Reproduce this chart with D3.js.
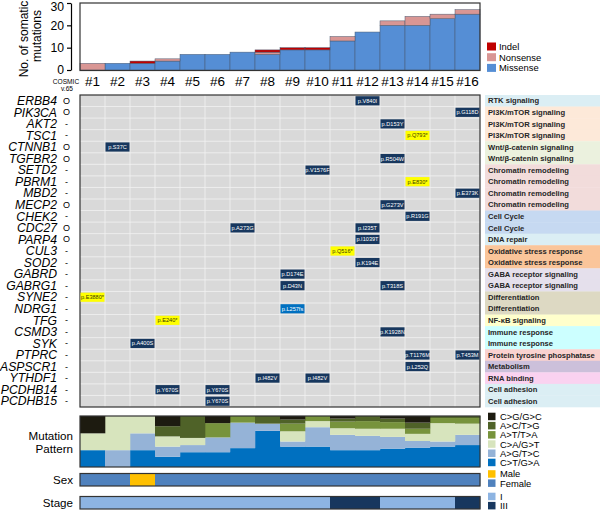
<!DOCTYPE html>
<html><head><meta charset="utf-8">
<script src="https://cdn.jsdelivr.net/npm/d3@7"></script>
<style>body{margin:0;background:#fff}svg{display:block;font-family:"Liberation Sans",Arial,sans-serif}</style>
</head><body><svg id="c" width="600" height="511"></svg>
<script>
// ---------- data ----------
const samples = ["#1","#2","#3","#4","#5","#6","#7","#8","#9","#10","#11","#12","#13","#14","#15","#16"];
const missense = [0,3,3,4,7,7,8,7,9,9,13,17,20,20,23,25];
const nonsense = [3,0,0,1,0,0,0,1,0,0,2,0,2,4,2,2];
const indel    = [0,0,1,0,0,0,0,1,1,1,0,0,0,0,0,0];
const yTicks = [0,10,20,30];

const genes = ["ERBB4","PIK3CA","AKT2","TSC1","CTNNB1","TGFBR2","SETD2","PBRM1","MBD2","MECP2","CHEK2","CDC27","PARP4","CUL3","SOD2","GABRD","GABRG1","SYNE2","NDRG1","TFG","CSMD3","SYK","PTPRC","ASPSCR1","YTHDF1","PCDHB14","PCDHB15"];
const cosmic = ["O","O","-","-","O","O","-","-","-","O","-","O","O","-","-","-","-","-","-","-","-","-","-","-","-","-","-"];
const pathways = ["RTK signaling","PI3K/mTOR signaling","PI3K/mTOR signaling","PI3K/mTOR signaling","Wnt/β-catenin signaling","Wnt/β-catenin signaling","Chromatin remodeling","Chromatin remodeling","Chromatin remodeling","Chromatin remodeling","Cell Cycle","Cell Cycle","DNA repair","Oxidative stress response","Oxidative stress response","GABA receptor signaling","GABA receptor signaling","Differentiation","Differentiation","NF-κB signaling","Immune response","Immune response","Protein tyrosine phosphatase","Metabolism","RNA binding","Cell adhesion","Cell adhesion"];
const pathwayColors = {"RTK signaling":"#DBEEF4","PI3K/mTOR signaling":"#FDE9D9","Wnt/β-catenin signaling":"#EBF1DE","Chromatin remodeling":"#F2DCDB","Cell Cycle":"#C6D9F1","DNA repair":"#DBEEF4","Oxidative stress response":"#FAC59A","GABA receptor signaling":"#E5E0EC","Differentiation":"#DDD9C3","NF-κB signaling":"#FFFFCC","Immune response":"#CCFFFF","Protein tyrosine phosphatase":"#FAD2CF","Metabolism":"#CCC0DA","RNA binding":"#FAD2F0","Cell adhesion":"#DBEEF4"};

const mutGene   = ["ERBB4","PIK3CA","AKT2","TSC1","CTNNB1","TGFBR2","SETD2","PBRM1","MBD2","MECP2","CHEK2","CDC27","CDC27","PARP4","CUL3","SOD2","GABRD","GABRG1","GABRG1","SYNE2","NDRG1","TFG","CSMD3","SYK","PTPRC","PTPRC","ASPSCR1","YTHDF1","YTHDF1","PCDHB14","PCDHB14","PCDHB15"];
const mutSample = ["#12","#16","#13","#14","#2","#13","#10","#14","#16","#13","#14","#7","#12","#12","#11","#12","#9","#9","#13","#1","#9","#4","#13","#3","#14","#16","#14","#8","#10","#4","#6","#6"];
const mutLabel  = ["p.V840I","p.G118D","p.D153Y","p.Q793*","p.S37C","p.R504W","p.V1576F","p.E830*","p.E373K","p.G273V","p.R191G","p.A273G","p.I235T","p.I1039T","p.Q516*","p.K194E","p.D174E","p.D43N","p.T318S","p.E3880*","p.L257fs","p.E240*","p.K1928N","p.A400S","p.T1176M","p.T453M","p.L252Q","p.I482V","p.I482V","p.Y670S","p.Y670S","p.Y670S"];
const mutType   = ["Missense","Missense","Missense","Nonsense","Missense","Missense","Missense","Nonsense","Missense","Missense","Missense","Missense","Missense","Missense","Nonsense","Missense","Missense","Missense","Missense","Nonsense","Indel","Nonsense","Missense","Missense","Missense","Missense","Missense","Missense","Missense","Missense","Missense","Missense"];

// mutation pattern (percent of substitutions per sample)
const patternKeys = ["C>T/G>A","A>G/T>C","C>A/G>T","A>T/T>A","A>C/T>G","C>G/G>C"];
const pCT = [33,0,33,20,29,29,37,71,40,40,33,33,36,38,40,43];
const pAG = [0,33,33,20,14,29,50,14,10,38,30,28,23,13,10,20];
const pCA = [33,67,34,20,14,0,0,0,20,12,13,14,16,14,36,22];
const pAT = [0,0,0,0,0,28,13,0,15,10,13,15,13,10,10,11];
const pAC = [0,0,0,20,43,0,0,15,8,0,6,10,7,12,4,4];
const pCG = [34,0,0,20,0,14,0,0,7,0,5,0,5,13,0,0];
const patternColors = ["#0070C0","#95B3D7","#D7E4BD","#77933C","#4F6228","#1D1B10"];

const sex   = ["Female","Female","Male","Female","Female","Female","Female","Female","Female","Female","Female","Female","Female","Female","Female","Female"];
const stage = ["I","I","I","I","I","I","I","I","I","I","III","III","I","I","I","III"];

// ---------- layout ----------
const svg = d3.select("#c");
const X0 = 80, X1 = 480;
const x = d3.scaleBand().domain(samples).range([X0, X1]).padding(0);

// ---- top bar chart ----
const y = d3.scaleLinear().domain([0,30]).range([70,3]);
const barData = samples.map((s,i)=>({s, Missense:missense[i], Nonsense:nonsense[i], Indel:indel[i]}));
const stackKeys = ["Missense","Nonsense","Indel"];
const barColors = {Missense:"#558ED5", Nonsense:"#D99694", Indel:"#C00000"};
const stacked = d3.stack().keys(stackKeys)(barData);
svg.append("g").selectAll("g").data(stacked).join("g")
  .attr("fill", d=>barColors[d.key])
  .selectAll("rect").data(d=>d).join("rect")
  .attr("x", d=>x(d.data.s)).attr("width", x.bandwidth())
  .attr("y", d=>y(d[1])).attr("height", d=>y(d[0])-y(d[1]))
  .attr("stroke","#4a5a70").attr("stroke-width",0.5);
svg.append("rect").attr("x",X0).attr("y",3).attr("width",X1-X0).attr("height",67.5)
  .attr("fill","none").attr("stroke","#333").attr("stroke-width",1.2);
const yAxis = svg.append("g").attr("transform","translate(71,0)")
  .call(d3.axisLeft(y).tickValues(yTicks).tickSize(4).tickSizeOuter(0).tickPadding(3));
yAxis.selectAll("text").attr("font-size",12.2).attr("fill","#000").attr("font-family","Liberation Sans, Arial")
  .attr("dy", d=> d===30 ? "0.62em" : "0.32em");
yAxis.selectAll("path,line").attr("stroke","#000").attr("stroke-width",1.2);
svg.append("text").attr("transform","translate(28,39) rotate(-90)")
  .attr("text-anchor","middle").attr("font-size",12).attr("fill","#000").text("No. of somatic");
svg.append("text").attr("transform","translate(41,36) rotate(-90)")
  .attr("text-anchor","middle").attr("font-size",12).attr("fill","#000").text("mutations");

// column labels
svg.append("g").selectAll("text").data(samples).join("text")
  .attr("x", d=>x(d)+x.bandwidth()/2).attr("y",86)
  .attr("text-anchor","middle").attr("font-size",13.5).text(d=>d);
svg.append("text").attr("x",66).attr("y",84).attr("text-anchor","middle").attr("font-size",6.6).text("COSMIC");
svg.append("text").attr("x",67).attr("y",90.5).attr("text-anchor","middle").attr("font-size",6.6).text("v.65");

// top legend
const legTop = [["Indel","#C00000"],["Nonsense","#D99694"],["Missense","#558ED5"]];
legTop.forEach((d,i)=>{
  svg.append("rect").attr("x",487).attr("y",42.5+i*10.7).attr("width",9).attr("height",8).attr("fill",d[1]);
  svg.append("text").attr("x",499).attr("y",49.8+i*10.7).attr("font-size",9.4).text(d[0]);
});

// ---- matrix ----
const yg = d3.scaleBand().domain(genes).range([95, 407]).padding(0);
const rh = yg.bandwidth();
svg.append("rect").attr("x",X0).attr("y",95).attr("width",X1-X0).attr("height",312).attr("fill","#D9D9D9");
const grid = svg.append("g").attr("stroke","#F2F2F2").attr("stroke-width",0.8);
samples.slice(1).forEach(s=>grid.append("line").attr("x1",x(s)).attr("x2",x(s)).attr("y1",95).attr("y2",407));
genes.slice(1).forEach(g=>grid.append("line").attr("x1",X0).attr("x2",X1).attr("y1",yg(g)).attr("y2",yg(g)));
svg.append("rect").attr("x",X0).attr("y",95).attr("width",X1-X0).attr("height",312)
  .attr("fill","none").attr("stroke","#333").attr("stroke-width",1.2);

svg.append("g").selectAll("text").data(genes).join("text")
  .attr("x",57).attr("y",g=>yg(g)+rh/2+4.2).attr("text-anchor","end")
  .attr("font-size",12.2).attr("font-style","italic").text(d=>d);
svg.append("g").selectAll("text").data(cosmic).join("text")
  .attr("x",66.5).attr("y",(d,i)=>yg(genes[i])+rh/2+3).attr("text-anchor","middle")
  .attr("font-size",9).text(d=>d);

// pathway panel
svg.append("g").selectAll("rect").data(pathways).join("rect")
  .attr("x",485).attr("y",(d,i)=>yg(genes[i])).attr("width",115).attr("height",rh+0.3)
  .attr("fill",d=>pathwayColors[d]);
svg.append("g").selectAll("text").data(pathways).join("text")
  .attr("x",488).attr("y",(d,i)=>yg(genes[i])+rh/2+2.7)
  .attr("font-size",7.6).attr("font-weight","bold").attr("fill","#262626").text(d=>d);

// mutation boxes
const boxFill = {Missense:"#17375E", Nonsense:"#FFFF00", Indel:"#0070C0"};
const boxText = {Missense:"#fff", Nonsense:"#3a3a00", Indel:"#fff"};
const muts = mutGene.map((g,i)=>({g, s:mutSample[i], l:mutLabel[i], t:mutType[i]}));
const mg = svg.append("g").selectAll("g").data(muts).join("g");
mg.append("rect").attr("x",d=>x(d.s)+0.5).attr("y",d=>yg(d.g)+1.2)
  .attr("width",x.bandwidth()-1).attr("height",rh-2.4).attr("fill",d=>boxFill[d.t]);
mg.append("text").attr("x",d=>x(d.s)+x.bandwidth()/2).attr("y",d=>yg(d.g)+rh/2+2)
  .attr("text-anchor","middle").attr("font-size",5.6).attr("fill",d=>boxText[d.t]).text(d=>d.l);

// ---- mutation pattern ----
const pat = samples.map((s,i)=>{
  const vals=[pCT[i],pAG[i],pCA[i],pAT[i],pAC[i],pCG[i]];
  const tot=d3.sum(vals);
  const o={s}; patternKeys.forEach((k,j)=>o[k]=vals[j]/tot); return o;});
const yp = d3.scaleLinear().domain([0,1]).range([467,416]);
const pst = d3.stack().keys(patternKeys)(pat);
svg.append("g").selectAll("g").data(pst).join("g")
  .attr("fill",(d,i)=>patternColors[i])
  .selectAll("rect").data(d=>d).join("rect")
  .attr("x",d=>x(d.data.s)).attr("width",x.bandwidth()+0.3)
  .attr("y",d=>yp(d[1])).attr("height",d=>yp(d[0])-yp(d[1]));
svg.append("rect").attr("x",X0).attr("y",416).attr("width",X1-X0).attr("height",51)
  .attr("fill","none").attr("stroke","#333").attr("stroke-width",1.2);

// sex
const sexColors = {Male:"#FFC000", Female:"#4F81BD"};
svg.append("g").selectAll("rect").data(sex).join("rect")
  .attr("x",(d,i)=>x(samples[i])).attr("width",x.bandwidth()+0.3)
  .attr("y",473.5).attr("height",12.5).attr("fill",d=>sexColors[d]);
svg.append("rect").attr("x",X0).attr("y",473.5).attr("width",X1-X0).attr("height",12.5)
  .attr("fill","none").attr("stroke","#333").attr("stroke-width",1.2);
// stage
const stageColors = {"I":"#8DB4E2","III":"#17375E"};
svg.append("g").selectAll("rect").data(stage).join("rect")
  .attr("x",(d,i)=>x(samples[i])).attr("width",x.bandwidth()+0.3)
  .attr("y",496.5).attr("height",12.5).attr("fill",d=>stageColors[d]);
svg.append("rect").attr("x",X0).attr("y",496.5).attr("width",X1-X0).attr("height",12.5)
  .attr("fill","none").attr("stroke","#333").attr("stroke-width",1.2);

// left labels
[["Mutation",440],["Pattern",453],["Sex",484],["Stage",507]].forEach(d=>
  svg.append("text").attr("x",73).attr("y",d[1]).attr("text-anchor","end").attr("font-size",11.6).text(d[0]));

// bottom legend
const legB = [["C>G/G>C","#1D1B10"],["A>C/T>G","#4F6228"],["A>T/T>A","#77933C"],["C>A/G>T","#D7E4BD"],["A>G/T>C","#95B3D7"],["C>T/G>A","#0070C0"],["Male","#FFC000"],["Female","#4F81BD"],["I","#8DB4E2"],["III","#17375E"]];
const legY = [416.5,425.7,434.9,444.1,453.3,462.5,474,483.2,496.5,505.7];
legB.forEach((d,i)=>{
  svg.append("rect").attr("x",488).attr("y",legY[i]-3.8).attr("width",7.5).attr("height",7.5).attr("fill",d[1]);
  svg.append("text").attr("x",500).attr("y",legY[i]+3.4).attr("font-size",9.4).text(d[0]);
});
</script></body></html>
